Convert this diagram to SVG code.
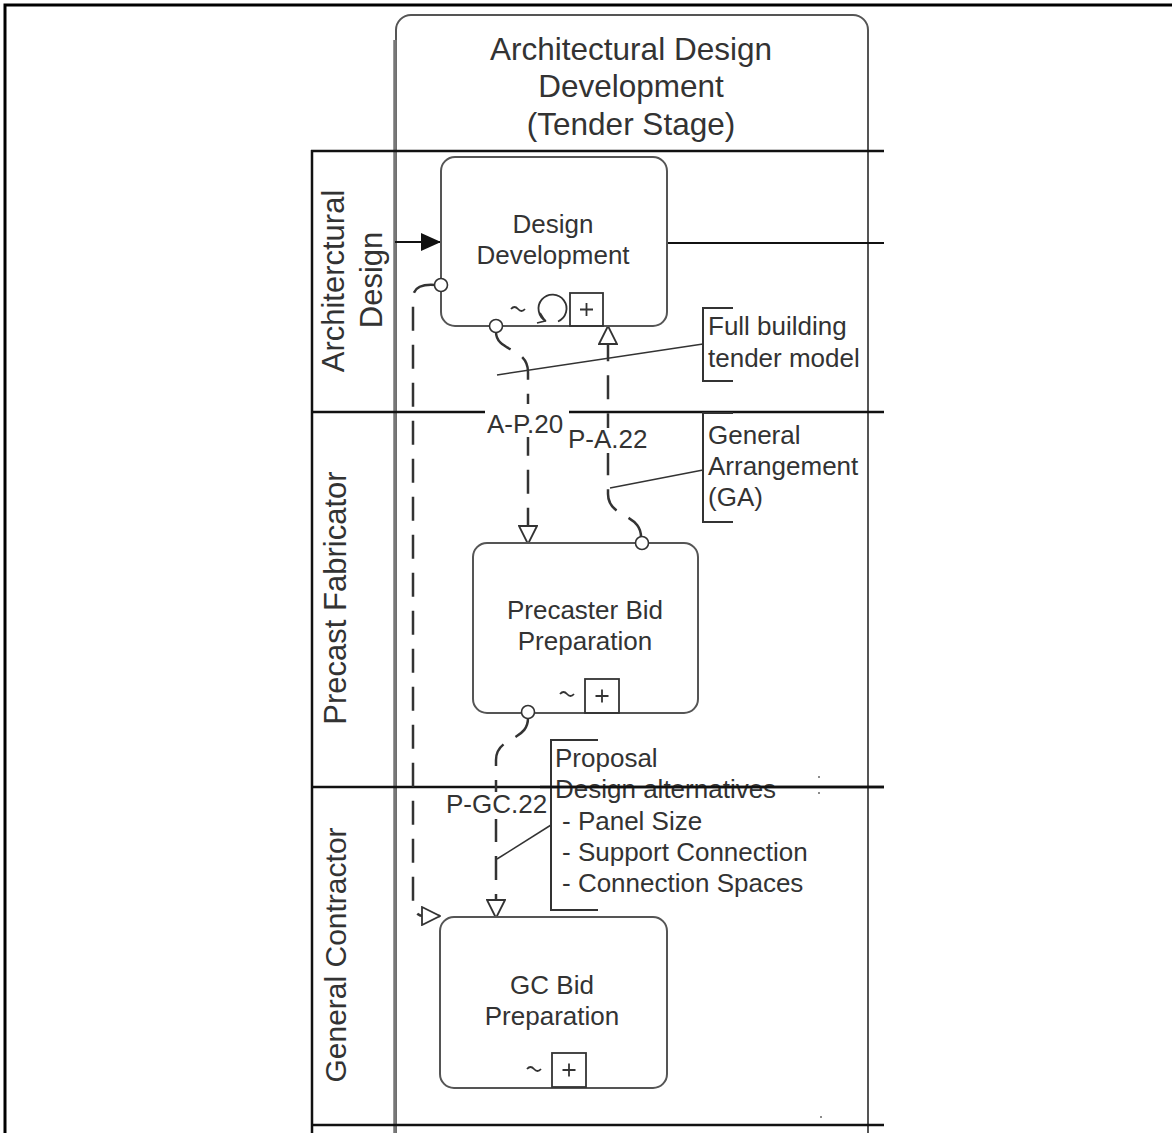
<svg xmlns="http://www.w3.org/2000/svg" width="1172" height="1133" viewBox="0 0 1172 1133">
<style>
.t{font-family:"Liberation Sans",Arial,sans-serif;fill:#333}
.n{font-size:26px;text-anchor:middle}
.a{font-size:26px}
.lane{stroke:#111;stroke-width:2.5;fill:none}
.box{fill:#fff;stroke:#555;stroke-width:2}
.mk{fill:none;stroke:#333;stroke-width:1.8}
.msg{fill:none;stroke:#333;stroke-width:2.5;stroke-dasharray:24 14}
.assoc{fill:none;stroke:#333;stroke-width:1.5}
.src{fill:#fff;stroke:#333;stroke-width:1.6}
</style>
<defs>
<marker id="open" viewBox="0 0 20 20" refX="19" refY="10" markerWidth="20" markerHeight="20" markerUnits="userSpaceOnUse" orient="auto">
<path d="M1,1 L19,10 L1,19 Z" fill="#fff" stroke="#333" stroke-width="1.8" stroke-dasharray="none"/>
</marker>
<marker id="fill" viewBox="0 0 20 20" refX="20" refY="10" markerWidth="20" markerHeight="20" markerUnits="userSpaceOnUse" orient="auto">
<path d="M0,1 L20,10 L0,19 Z" fill="#111"/>
</marker>
</defs>
<rect width="1172" height="1133" fill="#fff"/>
<g id="frame">
<path d="M5,1133 V5 H1172" fill="none" stroke="#000" stroke-width="3"/>
</g>
<g id="pool">
<rect x="396" y="15" width="472" height="1140" rx="15" fill="none" stroke="#555" stroke-width="2"/>
<line x1="395" y1="40" x2="395" y2="1133" stroke="#777" stroke-width="3.5"/>
<line x1="312" y1="150" x2="312" y2="1133" class="lane" stroke-width="2"/>
<line x1="311" y1="151" x2="884" y2="151" class="lane" stroke-width="2"/>
<line x1="311" y1="412" x2="884" y2="412" class="lane" stroke-width="3"/>
<line x1="311" y1="787" x2="884" y2="787" class="lane"/>
<line x1="311" y1="1125" x2="884" y2="1125" class="lane"/>
<text class="t" x="631" y="60" font-size="31.5" text-anchor="middle">Architectural Design</text>
<text class="t" x="631" y="97" font-size="31.5" text-anchor="middle">Development</text>
<text class="t" x="631" y="135" font-size="31.5" text-anchor="middle">(Tender Stage)</text>
<text class="t" transform="translate(344,281) rotate(-90)" font-size="31" text-anchor="middle">Architerctural</text>
<text class="t" transform="translate(382,280) rotate(-90)" font-size="31" text-anchor="middle">Design</text>
<text class="t" transform="translate(346,598) rotate(-90)" font-size="31" text-anchor="middle">Precast Fabricator</text>
<text class="t" transform="translate(346,955) rotate(-90)" font-size="30" text-anchor="middle">General Contractor</text>
<circle cx="819" cy="777" r="1" fill="#666"/>
<circle cx="819" cy="793" r="1" fill="#666"/>
<circle cx="821" cy="1117" r="1" fill="#666"/>
</g>
<g id="connectors">
<line x1="395" y1="242" x2="441" y2="242" stroke="#111" stroke-width="2" marker-end="url(#fill)"/>
<line x1="667" y1="243" x2="884" y2="243" stroke="#111" stroke-width="2"/>
<path class="msg" d="M435,285 C421,284 413,288 413,298 L413,902 C413,911 417,916 424,916 L440,916" marker-end="url(#open)"/>
<path class="msg" d="M496,332 C496,352 528,347 528,372 L528,544" marker-end="url(#open)"/>
<path class="msg" d="M641,537 C641,513 608,518 608,494 L608,326" marker-end="url(#open)"/>
<path class="msg" d="M528,718 C528,742 496,736 496,760 L496,918" marker-end="url(#open)"/>
<rect x="485" y="404" width="84" height="33" fill="#fff"/>
<text class="t a" x="487" y="433">A-P.20</text>
<rect x="566" y="428" width="84" height="25" fill="#fff"/>
<text class="t a" x="568" y="448">P-A.22</text>
<rect x="444" y="792" width="104" height="27" fill="#fff"/>
<text class="t a" x="446" y="813">P-GC.22</text>
</g>
<g id="annotation-full-model">
<path class="assoc" d="M497,375 L703,344"/>
<path d="M733,308 H703 V381 H733" fill="none" stroke="#333" stroke-width="2"/>
<text class="t a" x="708" y="335">Full building</text>
<text class="t a" x="708" y="367">tender model</text>
</g>
<g id="annotation-ga">
<path class="assoc" d="M610,488 L703,470"/>
<path d="M733,413 H703 V522 H733" fill="none" stroke="#333" stroke-width="2"/>
<text class="t a" x="708" y="444">General</text>
<text class="t a" x="708" y="475">Arrangement</text>
<text class="t a" x="708" y="506">(GA)</text>
</g>
<g id="annotation-proposal">
<path class="assoc" d="M497,859 L551,825"/>
<path d="M598,740 H551 V910 H598" fill="none" stroke="#333" stroke-width="2"/>
<text class="t a" x="555" y="767">Proposal</text>
<text class="t a" x="555" y="798">Design alternatives</text>
<text class="t a" x="562" y="830">- Panel Size</text>
<text class="t a" x="562" y="861">- Support Connection</text>
<text class="t a" x="562" y="892">- Connection Spaces</text>
<line x1="540" y1="787" x2="884" y2="787" class="lane"/>
</g>
<g id="node-design-development">
<rect class="box" x="441" y="157" width="226" height="169" rx="14"/>
<text class="t n" x="553" y="233">Design</text>
<text class="t n" x="553" y="264">Development</text>
<path class="mk" d="M511,309 q3.5,-4 7,0 t7,0"/>
<path class="mk" d="M546,321 A14 14 0 1 1 558,321.5"/>
<path class="mk" d="M540,313 L545,321 L537,323"/>
<rect class="mk" x="570" y="293" width="33" height="33"/>
<path class="mk" d="M586.5,303 V316 M580,309.5 H593"/>
<circle class="src" cx="441" cy="285" r="6.5"/>
<circle class="src" cx="496" cy="326" r="6.5"/>
</g>
<g id="node-precaster-bid">
<rect class="box" x="473" y="543" width="225" height="170" rx="14"/>
<text class="t n" x="585" y="619">Precaster Bid</text>
<text class="t n" x="585" y="650">Preparation</text>
<path class="mk" d="M560,694 q3.5,-4 7,0 t7,0"/>
<rect class="mk" x="585" y="679" width="34" height="34"/>
<path class="mk" d="M602,689.5 V702.5 M595.5,696 H608.5"/>
<circle class="src" cx="642" cy="543" r="6.5"/>
<circle class="src" cx="528" cy="712" r="6.5"/>
</g>
<g id="node-gc-bid">
<rect class="box" x="440" y="917" width="227" height="171" rx="14"/>
<text class="t n" x="552" y="994">GC Bid</text>
<text class="t n" x="552" y="1025">Preparation</text>
<path class="mk" d="M527,1069 q3.5,-4 7,0 t7,0"/>
<rect class="mk" x="552" y="1053" width="34" height="34"/>
<path class="mk" d="M569,1063.5 V1076.5 M562.5,1070 H575.5"/>
</g>
</svg>
